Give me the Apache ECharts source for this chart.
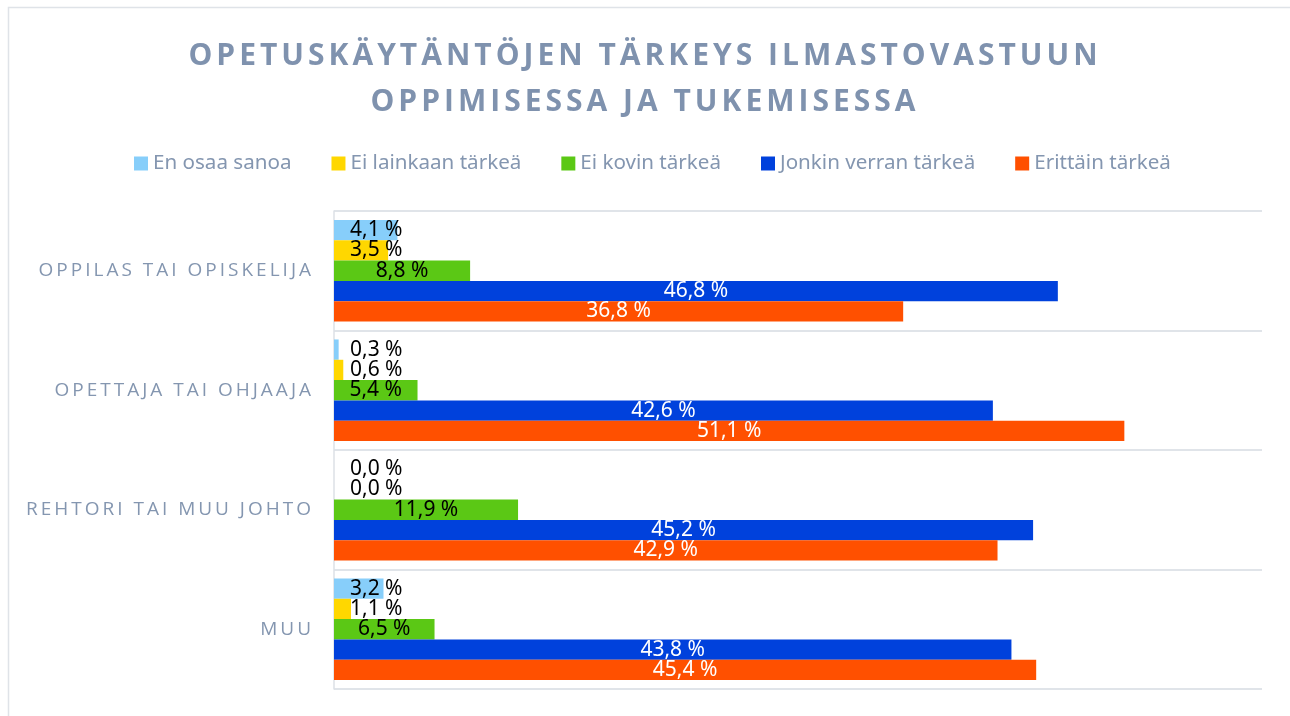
<!DOCTYPE html>
<html>
<head>
<meta charset="utf-8">
<title>Opetuskäytäntöjen tärkeys</title>
<script src="https://cdn.jsdelivr.net/npm/echarts@6/dist/echarts.min.js"></script>
<style>
  html, body { margin: 0; padding: 0; background: #fff; }
  #chart { width: 1290px; height: 716px; }
</style>
</head>
<body>
<div id="chart"></div>
<script>
const categories = ['OPPILAS TAI OPISKELIJA', 'OPETTAJA TAI OHJAAJA', 'REHTORI TAI MUU JOHTO', 'MUU'];
const seriesNames = ['En osaa sanoa', 'Ei lainkaan tärkeä', 'Ei kovin tärkeä', 'Jonkin verran tärkeä', 'Erittäin tärkeä'];

const enOsaaSanoa = [4.1, 0.3, 0.0, 3.2];
const eiLainkaan = [3.5, 0.6, 0.0, 1.1];
const eiKovin = [8.8, 5.4, 11.9, 6.5];
const jonkinVerran = [46.8, 42.6, 45.2, 43.8];
const erittain = [36.8, 51.1, 42.9, 45.4];

const xMax = 60;

const colors = ['#87CEFA', '#FFD700', '#5BC815', '#0041DC', '#FF5000'];
const labelColors = ['#000', '#000', '#000', '#fff', '#fff'];
const greyBlue = '#8496B0';

// spaced capitals like the Excel original: only text set in Open Sans gets letter spacing
const baseFill = CanvasRenderingContext2D.prototype.fillText;
CanvasRenderingContext2D.prototype.fillText = function (text, x, y, maxW) {
  if ('letterSpacing' in this) {
    const f = this.font || '';
    if (f.indexOf('Open Sans') >= 0) {
      this.letterSpacing = /bold|700/.test(f) ? '4px' : '3px';
    } else {
      this.letterSpacing = '0px';
    }
  }
  return maxW === undefined ? baseFill.call(this, text, x, y) : baseFill.call(this, text, x, y, maxW);
};

const fmt = v => v.toFixed(1).replace('.', ',') + ' %';

// short bars: Excel keeps the label from running into the axis
const itemLabel = v => v < 5.4
  ? { position: [16, '50%'], align: 'left', verticalAlign: 'middle' }
  : { position: 'inside' };

const values = [enOsaaSanoa, eiLainkaan, eiKovin, jonkinVerran, erittain];

let chart = echarts.init(document.getElementById('chart'));
let option = {
  animation: false,
  backgroundColor: '#fff',
  title: {
    text: 'OPETUSKÄYTÄNTÖJEN TÄRKEYS ILMASTOVASTUUN\nOPPIMISESSA JA TUKEMISESSA',
    left: 'center',
    top: 28,
    textStyle: {
      fontFamily: 'Open Sans',
      fontWeight: 'bold',
      fontSize: 30,
      lineHeight: 46,
      color: '#7F92AE'
    }
  },
  graphic: [{
    type: 'rect',
    left: 6,
    top: 5,
    silent: true,
    shape: { width: 1300, height: 800 },
    style: { fill: 'none', stroke: '#DFE3E8', lineWidth: 1.5 }
  }],
  legend: {
    data: seriesNames,
    top: 148,
    left: 129,
    icon: 'rect',
    itemWidth: 14,
    itemHeight: 14,
    itemGap: 40,
    textStyle: { fontFamily: 'Noto Sans', fontSize: 20.6, color: greyBlue }
  },
  grid: { left: 334, right: 28, top: 211, bottom: 27 },
  xAxis: {
    type: 'value',
    min: 0,
    max: xMax,
    axisLine: { show: false },
    axisTick: { show: false },
    axisLabel: { show: false },
    splitLine: { show: false }
  },
  yAxis: {
    type: 'category',
    data: categories,
    inverse: true,
    axisLine: { show: true, lineStyle: { color: '#DCE0E6', width: 1.5 } },
    axisTick: { show: false },
    axisLabel: { fontFamily: 'Open Sans', fontSize: 19, color: greyBlue, margin: 20 },
    splitLine: { show: true, lineStyle: { color: '#E0E4E9', width: 2 } }
  },
  series: seriesNames.map((name, i) => ({
    name: name,
    type: 'bar',
    barGap: 0,
    barCategoryGap: '15%',
    itemStyle: { color: colors[i] },
    label: {
      show: true,
      formatter: p => fmt(p.value),
      fontFamily: 'Noto Sans',
      fontSize: 21,
      color: labelColors[i]
    },
    data: values[i].map(v => ({ value: v, label: itemLabel(v) }))
  }))
};
option && chart.setOption(option);
</script>
</body>
</html>
